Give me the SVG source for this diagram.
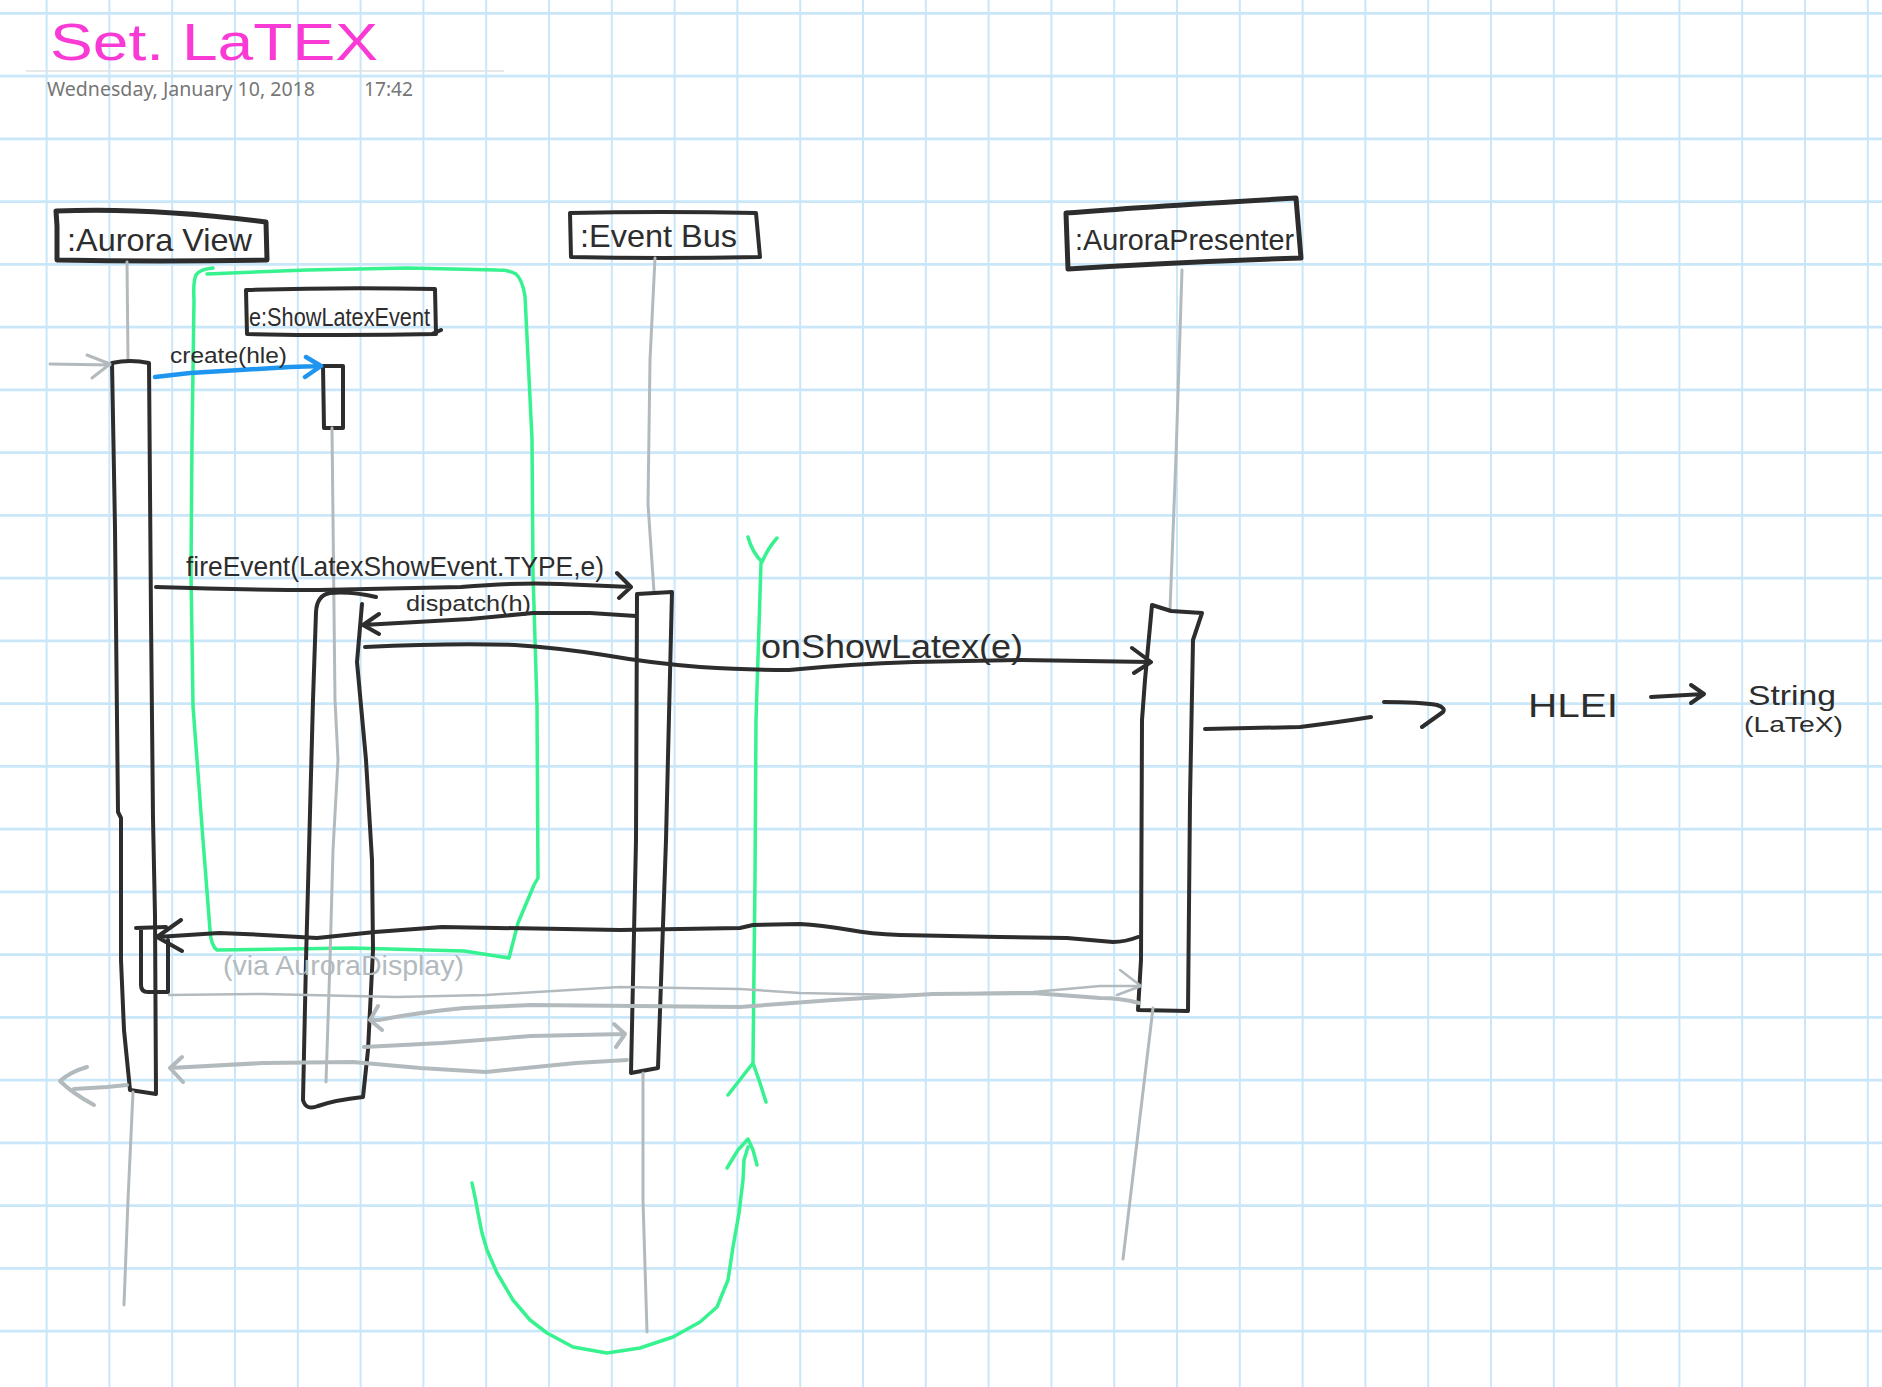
<svg xmlns="http://www.w3.org/2000/svg" width="1882" height="1387" viewBox="0 0 1882 1387">
<style>
.grid{fill:none;stroke:#c9e7f9}
.ink{fill:none;stroke:#2d2d2d;stroke-width:4;stroke-linecap:round;stroke-linejoin:round}
.box{stroke-width:5}
.gray{fill:none;stroke:#b3babe;stroke-width:4;stroke-linecap:round;stroke-linejoin:round}
.life{fill:none;stroke:#b3babe;stroke-width:3;stroke-linecap:round;stroke-linejoin:round}
.thin{stroke-width:2.5}
.green{fill:none;stroke:#36f28f;stroke-width:3.5;stroke-linecap:round;stroke-linejoin:round}
.blue{fill:none;stroke:#1e96f0;stroke-width:4.5;stroke-linecap:round;stroke-linejoin:round}
.hand{font-family:"Liberation Sans","DejaVu Sans",sans-serif;fill:#2d2d2d}
.hgray{font-family:"Liberation Sans","DejaVu Sans",sans-serif;fill:#b3babe}
.meta{font-family:"Noto Sans","Open Sans",sans-serif;fill:#767676;font-size:19px}
.title{font-family:"Liberation Sans","DejaVu Sans",sans-serif;fill:#fa3ad5;font-size:52px}
</style>
<rect width="1882" height="1387" fill="#ffffff"/>
<g id="grid">
<path class="grid" stroke-width="2" d="M46.6 0V1387M109.4 0V1387M172.2 0V1387M235 0V1387M297.8 0V1387M360.6 0V1387M423.4 0V1387M486.2 0V1387M549 0V1387M611.8 0V1387M674.6 0V1387M737.4 0V1387M800.2 0V1387M863 0V1387M925.8 0V1387M988.6 0V1387M1051.4 0V1387M1114.2 0V1387M1177 0V1387M1239.8 0V1387M1302.6 0V1387M1365.4 0V1387M1428.2 0V1387M1491 0V1387M1553.8 0V1387M1616.6 0V1387M1679.4 0V1387M1742.2 0V1387M1805 0V1387M1867.8 0V1387"/>
<path class="grid" stroke-width="2.6" d="M0 13.4H1882M0 76.15H1882M0 138.9H1882M0 201.65H1882M0 264.4H1882M0 327.15H1882M0 389.9H1882M0 452.65H1882M0 515.4H1882M0 578.15H1882M0 640.9H1882M0 703.65H1882M0 766.4H1882M0 829.15H1882M0 891.9H1882M0 954.65H1882M0 1017.4H1882M0 1080.15H1882M0 1142.9H1882M0 1205.65H1882M0 1268.4H1882M0 1331.15H1882"/>
</g>
<g id="header">
<text class="title" x="50" y="60" textLength="328" lengthAdjust="spacingAndGlyphs">Set. LaTEX</text>
<path d="M26 71H504" stroke="#e0e0e0" stroke-width="1.5"/>
<text class="meta" x="47" y="96" textLength="268" lengthAdjust="spacingAndGlyphs">Wednesday, January 10, 2018</text>
<text class="meta" x="364" y="96" textLength="49" lengthAdjust="spacingAndGlyphs">17:42</text>
</g>
<g id="frame-green">
<path class="green" d="M213 268 Q200 269 196 275 Q193 282 194 300 L192 440 L191 572 L193 706 L203 840 L210 930 Q211 946 217 950 L352 948 L464 951 L509 958 L518 923 L534 885 L538 878 L537 706 L533 573 L532 439 L525 296 Q522 279 516 274 Q510 270 497 270 L407 268 L307 270 L207 274"/>
<path class="green" d="M761 563 L756 720 L755 880 L753 1062"/>
<path class="green" d="M748 537 Q752 552 762 562 Q768 548 777 538"/>
<path class="green" d="M728 1095 L753 1063 L760 1083 L766 1102"/>
<path class="green" d="M472 1183 L475 1197 L478 1213 L482 1233 L487 1250 L497 1273 L513 1300 L530 1320 L547 1333 L573 1347 L607 1353 L640 1348 L673 1337 L700 1322 L717 1307 L728 1280 L733 1247 L739 1213 L743 1180 L744 1160 L748 1147"/>
<path class="green" d="M727 1168 L738 1150 L748 1139 L753 1150 L757 1165"/>
</g>
<g id="AuroraView">
<path class="ink box" d="M57 226 L56 211 Q150 207 266 222 L267 260 Q160 262 57 260 Z"/>
<text class="hand" x="67" y="251" font-size="32" textLength="185" lengthAdjust="spacingAndGlyphs">:Aurora View</text>
<path class="life" d="M127 262 L128 360"/>
<path class="ink" d="M112 363 Q130 359 149 363 L151 617 L153 818 L155 916 L156 1094 L130 1090 L124 1030 L121 960 L121 818 L118 812 L115 528 Z"/>
<path class="ink" d="M136 928 L166 927 M141 930 L141 985 Q141 992 148 992 L168 992 L168 940"/>
<path class="life" d="M133 1092 L128 1200 L124 1305"/>
</g>
<g id="ShowLatexEvent">
<path class="ink" d="M246 290 Q340 287 435 289 L436 334 Q340 336 247 334 Z M432 334 L441 330"/>
<text class="hand" x="249" y="326" font-size="25" textLength="181" lengthAdjust="spacingAndGlyphs">e:ShowLatexEvent</text>
<path class="ink" d="M323 366 L343 366 L343 428 L324 428 Z"/>
<path class="life" d="M332 428 L335 700 L338 760 L333 850 L330 960 L326 1082"/>
<path class="ink" d="M376 597 Q350 591 330 593 Q317 595 316 612 L313 700 L309 850 L306 960 L303 1100 Q306 1111 318 1106 Q335 1100 363 1097 L368 1050 L373 950 L372 860 L366 760 L357 662 L362 604"/>
</g>
<g id="EventBus">
<path class="ink" d="M570 213 Q660 211 756 213 L760 257 Q660 259 571 257 Z"/>
<text class="hand" x="580" y="247" font-size="32" textLength="157" lengthAdjust="spacingAndGlyphs">:Event Bus</text>
<path class="life" d="M655 258 L650 360 L648 504 L654 592"/>
<path class="ink" d="M637 594 L672 592 L666 840 L658 1068 L631 1073 L636 840 Z"/>
<path class="life" d="M643 1073 L643 1200 L647 1332"/>
</g>
<g id="AuroraPresenter">
<path class="ink box" d="M1066 213 Q1140 207 1296 198 L1301 258 Q1180 262 1068 269 Z"/>
<text class="hand" x="1075" y="250" font-size="30" textLength="219" lengthAdjust="spacingAndGlyphs">:AuroraPresenter</text>
<path class="life" d="M1182 270 L1176 456 L1170 610"/>
<path class="ink" d="M1152 605 L1171 611 L1202 613 L1193 640 L1190 800 L1188 1011 L1138 1010 L1141 960 L1142 720 L1145 680 Z"/>
<path class="life" d="M1153 1008 L1123 1259"/>
</g>
<g id="connectors">
<path class="life" d="M50 364 L110 365 M87 355 L110 364 L92 378"/>
<path class="blue" d="M155 377 L190 373 L240 370 L290 367 L321 366 M306 357 L321 366 L305 377"/>
<text class="hand" x="170" y="363" font-size="22" textLength="117" lengthAdjust="spacingAndGlyphs">create(hle)</text>
<path class="ink" d="M156 587 Q250 590 320 590 Q420 588 461 587 Q520 582 560 584 L631 587 M617 573 L631 587 L619 598"/>
<text class="hand" x="186" y="576" font-size="28" textLength="418" lengthAdjust="spacingAndGlyphs">fireEvent(LatexShowEvent.TYPE,e)</text>
<path class="ink" d="M636 616 L590 613 L533 613 L470 619 L363 625 M379 614 L363 625 L379 634"/>
<text class="hand" x="406" y="611" font-size="22" textLength="125" lengthAdjust="spacingAndGlyphs">dispatch(h)</text>
<path class="ink" d="M365 647 Q450 643 515 645 Q560 648 604 655 Q650 663 700 667 Q750 670 789 670 Q850 664 914 662 L1021 660 L1150 662 M1132 648 L1151 662 L1134 673"/>
<text class="hand" x="761" y="658" font-size="34" textLength="262" lengthAdjust="spacingAndGlyphs">onShowLatex(e)</text>
<path class="ink" d="M1138 937 Q1125 942 1113 942 Q1090 940 1067 938 L1000 937 L900 935 Q870 934 850 930 Q820 925 800 924 L753 925 L740 928 L620 930 L442 927 L375 932 L317 938 Q270 935 219 933 L157 937 M181 920 L157 937 L182 951"/>
<text class="hgray" x="223" y="975" font-size="28" textLength="241" lengthAdjust="spacingAndGlyphs">(via AuroraDisplay)</text>
<path class="life thin" d="M169 995 L263 994 L397 997 L486 995 L620 987 L740 989 L800 993 L900 995 L1033 992 L1100 986 L1141 986 M1120 970 L1141 986 L1117 995"/>
<path class="gray" d="M1139 1003 Q1120 998 1100 998 L1033 993 L933 994 L833 1000 L753 1006 L740 1007 L531 1005 L464 1008 Q420 1012 379 1020 L370 1020 M378 1006 L370 1020 L382 1030"/>
<path class="gray" stroke-width="3.5" d="M364 1047 L442 1043 L531 1036 L625 1034 M614 1024 L625 1034 L616 1047"/>
<path class="gray" d="M627 1060 L576 1063 L486 1072 L420 1068 L353 1062 L263 1063 L170 1068 M182 1057 L170 1068 L183 1082"/>
<path class="gray" d="M127 1085 L107 1087 L74 1089 M87 1067 Q70 1072 60 1081 Q72 1093 94 1105"/>
<path class="ink" d="M1205 729 L1300 727 Q1340 722 1371 717 M1384 702 Q1420 702 1437 705 Q1446 708 1443 712 L1422 727"/>
<text class="hand" x="1528" y="717" font-size="34" textLength="90" lengthAdjust="spacingAndGlyphs">HLEI</text>
<path class="ink" d="M1651 697 L1704 694 M1691 685 L1704 694 L1691 703"/>
<text class="hand" x="1748" y="705" font-size="28" textLength="88" lengthAdjust="spacingAndGlyphs">String</text>
<text class="hand" x="1744" y="732" font-size="22" textLength="99" lengthAdjust="spacingAndGlyphs">(LaTeX)</text>
</g>
</svg>
